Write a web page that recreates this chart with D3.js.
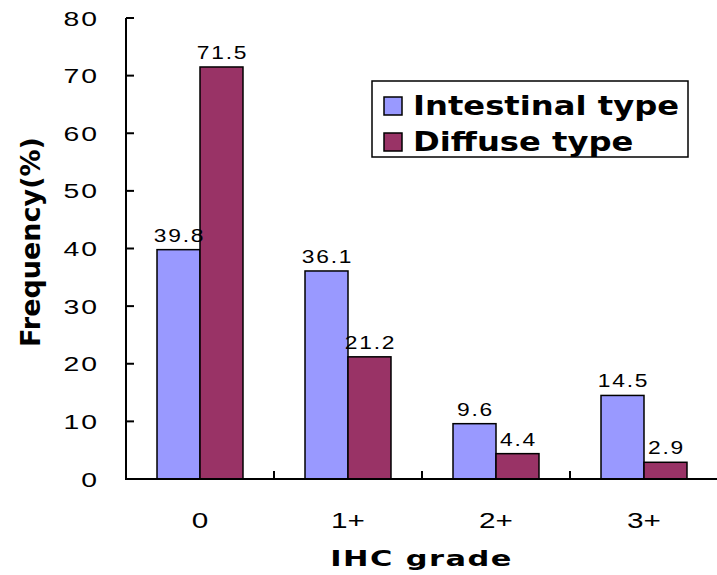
<!DOCTYPE html>
<html>
<head>
<meta charset="utf-8">
<script src="https://cdn.jsdelivr.net/npm/d3@7"></script>
<style>
  html, body { margin: 0; padding: 0; background: #fff; }
  svg { display: block; }
  .num { font-family: "Liberation Sans", Arial, sans-serif; fill: #000; }
  .bold { font-family: "DejaVu Sans", Verdana, sans-serif; font-weight: bold; fill: #000; }
</style>
</head>
<body>
<svg id="chart" width="717" height="575"></svg>
<script>
// IHC grade categories and frequency (%) for each histological type
const categories = ["0", "1+", "2+", "3+"];
const seriesNames = ["Intestinal type", "Diffuse type"];
const intestinal = [39.8, 36.1, 9.6, 14.5];
const diffuse = [71.5, 21.2, 4.4, 2.9];
const yTicks = [0, 10, 20, 30, 40, 50, 60, 70, 80];
const colors = ["#9999FF", "#993366"];

const svg = d3.select("#chart");
const plotLeft = 126, plotRight = 718, plotTop = 18, plotBottom = 479;

// places text at (x, y) with a horizontal stretch of sx
function placeText(sel, fx, fy, sx) {
  return sel.attr("transform", (d, i) =>
    `translate(${typeof fx === "function" ? fx(d, i) : fx},${typeof fy === "function" ? fy(d, i) : fy}) scale(${sx},1)`);
}

const x = d3.scaleBand()
  .domain(categories)
  .range([plotLeft, plotRight])
  .paddingInner(0.419)
  .paddingOuter(0.2095);

const xSub = d3.scaleBand()
  .domain(seriesNames)
  .range([0, x.bandwidth()]);

const y = d3.scaleLinear().domain([0, 80]).range([plotBottom, plotTop]);

const rows = categories.map((c, i) => ({
  cat: c,
  values: [
    { name: seriesNames[0], v: intestinal[i], color: colors[0] },
    { name: seriesNames[1], v: diffuse[i], color: colors[1] }
  ]
}));

// bars
const groups = svg.append("g").selectAll("g")
  .data(rows).join("g")
  .attr("transform", d => `translate(${x(d.cat)},0)`);

groups.selectAll("rect")
  .data(d => d.values).join("rect")
  .attr("x", d => xSub(d.name))
  .attr("width", xSub.bandwidth())
  .attr("y", d => y(d.v))
  .attr("height", d => y(0) - y(d.v))
  .attr("fill", d => d.color)
  .attr("stroke", "#000")
  .attr("stroke-width", 1.5);

// value labels
placeText(groups.selectAll("text")
  .data(d => d.values).join("text")
  .attr("class", "num")
  .attr("text-anchor", "middle")
  .attr("font-size", 19)
  .attr("letter-spacing", 1.5)
  .text(d => d.v.toFixed(1)),
  d => xSub(d.name) + xSub.bandwidth() / 2 + 1, d => y(d.v) - 8, 1.2);

// y axis
const yAxis = svg.append("g");
yAxis.append("line")
  .attr("x1", plotLeft).attr("x2", plotLeft)
  .attr("y1", plotTop).attr("y2", plotBottom)
  .attr("stroke", "#000").attr("stroke-width", 2);
yAxis.selectAll("line.tick")
  .data(yTicks).join("line")
  .attr("class", "tick")
  .attr("x1", plotLeft).attr("x2", plotLeft + 8)
  .attr("y1", d => y(d)).attr("y2", d => y(d))
  .attr("stroke", "#000").attr("stroke-width", 2);
placeText(yAxis.selectAll("text")
  .data(yTicks).join("text")
  .attr("class", "num")
  .attr("text-anchor", "end")
  .attr("font-size", 21)
  .attr("letter-spacing", 1.5)
  .text(d => d),
  plotLeft - 27, d => y(d) + 7.5, 1.35);

// x axis
const xAxis = svg.append("g");
xAxis.append("line")
  .attr("x1", plotLeft - 1).attr("x2", 717)
  .attr("y1", plotBottom).attr("y2", plotBottom)
  .attr("stroke", "#000").attr("stroke-width", 2);
const gap = (x.step() - x.bandwidth()) / 2;
xAxis.selectAll("line.tick")
  .data(categories.slice(1)).join("line")
  .attr("class", "tick")
  .attr("x1", d => x(d) - gap).attr("x2", d => x(d) - gap)
  .attr("y1", plotBottom).attr("y2", plotBottom - 8)
  .attr("stroke", "#000").attr("stroke-width", 2);
placeText(xAxis.selectAll("text")
  .data(categories).join("text")
  .attr("class", "num")
  .attr("text-anchor", "middle")
  .attr("font-size", 22)
  .text(d => d),
  d => x(d) + x.bandwidth() / 2, 528, 1.35);

// axis titles
placeText(svg.append("text")
  .attr("class", "bold")
  .attr("text-anchor", "middle")
  .attr("font-size", 21)
  .attr("letter-spacing", 1)
  .text("IHC grade"),
  (plotLeft + 717) / 2, 566, 1.45);

svg.append("text")
  .attr("class", "bold")
  .attr("transform", "translate(40,242) rotate(-90)")
  .attr("text-anchor", "middle")
  .attr("font-size", 27)
  .text("Frequency(%)");

// legend
const legend = svg.append("g");
legend.append("rect")
  .attr("x", 372).attr("y", 81)
  .attr("width", 316).attr("height", 76)
  .attr("fill", "#fff")
  .attr("stroke", "#000").attr("stroke-width", 1.5);
const items = legend.selectAll("g.item")
  .data(seriesNames).join("g")
  .attr("class", "item")
  .attr("transform", (d, i) => `translate(384,${97 + i * 36})`);
items.append("rect")
  .attr("width", 18).attr("height", 18)
  .attr("fill", (d, i) => colors[i])
  .attr("stroke", "#000").attr("stroke-width", 1.5);
placeText(items.append("text")
  .attr("class", "bold")
  .attr("font-size", 26)
  .text(d => d),
  29, 18, 1.24);
</script>
</body>
</html>
